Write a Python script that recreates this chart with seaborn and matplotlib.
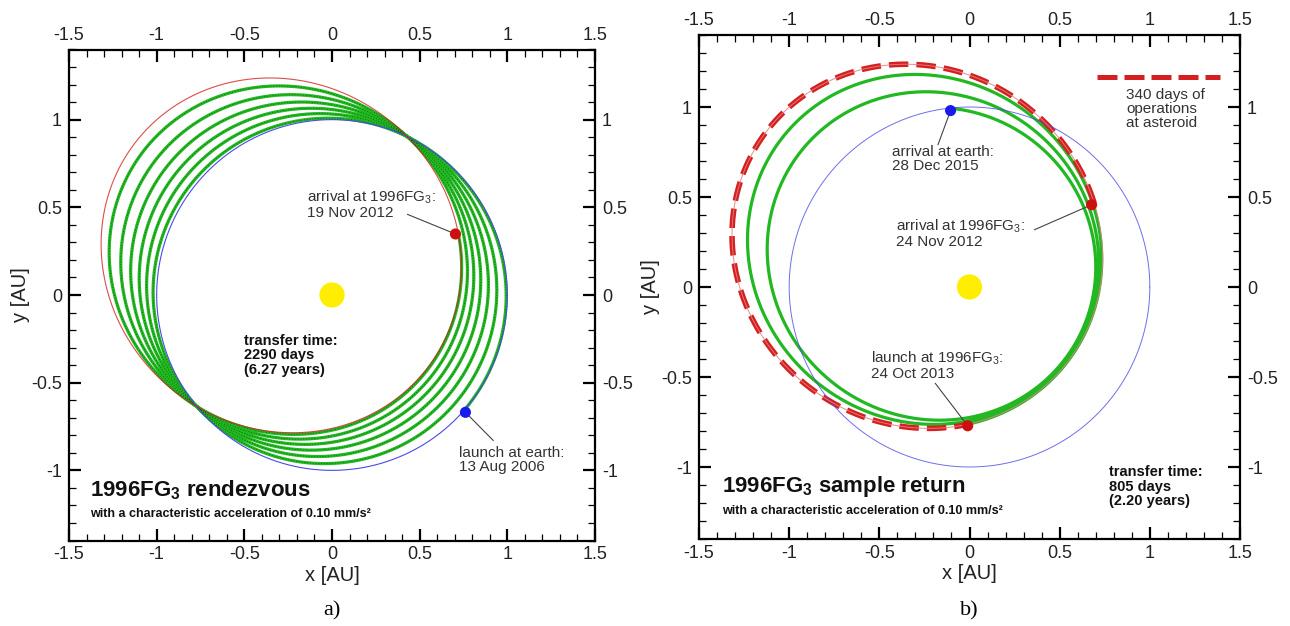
import numpy as np
import matplotlib
matplotlib.use("Agg")
import matplotlib.pyplot as plt
from matplotlib.ticker import MultipleLocator, FuncFormatter
import seaborn as sns

sns.set_theme(style="white")
plt.rcParams["font.family"] = ["Liberation Sans", "DejaVu Sans"]
plt.rcParams["axes.unicode_minus"] = False
plt.rcParams["mathtext.fontset"] = "custom"
plt.rcParams["mathtext.rm"] = "Liberation Sans"
plt.rcParams["mathtext.it"] = "Liberation Sans:italic"
plt.rcParams["mathtext.bf"] = "Liberation Sans:bold"

# orbits (AU, deg): earth circle, 1996FG3 ellipse
earth_r = 1.0
ast_p = 0.924        # semi-latus rectum
ast_e = 0.349
ast_peri = -38.0     # direction of perihelion

# a) rendezvous
rv_launch = (0.761, -0.669)     # 13 Aug 2006, earth
rv_arrival = (0.704, 0.348)     # 19 Nov 2012, 1996FG3
rv_revs = 6

# b) sample return
sr_arrival_ast = (0.677, 0.457)     # 24 Nov 2012
sr_launch_ast = (-0.01, -0.771)     # 24 Oct 2013
sr_arrival_earth = (-0.105, 0.98)   # 28 Dec 2015
sr_revs = 2
sr_end_p = 0.825
sr_end_e = 0.25

GREEN = "#22b822"
RED = "#d42020"
BLUE = "#4a4ae8"
TXT = "#333333"


def ang(pt):
    return np.degrees(np.arctan2(pt[1], pt[0]))


def conic(theta, p, e, peri):
    th = np.radians(theta)
    r = p / (1 + e * np.cos(th - np.radians(peri)))
    return r * np.cos(th), r * np.sin(th)


def spiral(th0, th1, p0, e0, p1, e1):
    th = np.linspace(th0, th1, 4000)
    t = (th - th0) / (th1 - th0)
    return conic(th, p0 + (p1 - p0) * t, e0 + (e1 - e0) * t, ast_peri)


def line(ax, x, y, **kw):
    sns.lineplot(x=x, y=y, sort=False, estimator=None, ax=ax, **kw)
    return ax.lines[-1]


def dot(ax, pt, color, s=64, z=6):
    sns.scatterplot(x=[pt[0]], y=[pt[1]], color=color, s=s, edgecolor="none",
                    ax=ax, zorder=z, legend=False)


def style_axes(ax):
    ax.set_xlim(-1.5, 1.5)
    ax.set_ylim(-1.4, 1.4)
    fmt = FuncFormatter(lambda v, _: f"{round(v, 2) + 0:g}")
    ax.xaxis.set_major_locator(MultipleLocator(0.5))
    ax.xaxis.set_minor_locator(MultipleLocator(0.1))
    ax.yaxis.set_major_locator(MultipleLocator(0.5))
    ax.yaxis.set_minor_locator(MultipleLocator(0.1))
    ax.xaxis.set_major_formatter(fmt)
    ax.yaxis.set_major_formatter(fmt)
    ax.tick_params(which="both", direction="in", bottom=True, top=True,
                   left=True, right=True, labelbottom=True, labeltop=True,
                   labelleft=True, labelright=True, colors="black")
    ax.tick_params(which="major", length=8.5, width=1.6, labelsize=13,
                   labelcolor="#222222")
    ax.tick_params(axis="x", which="major", pad=4)
    ax.tick_params(axis="y", which="major", pad=5)
    ax.tick_params(which="minor", length=5, width=0.9)
    for sp in ax.spines.values():
        sp.set_color("black")
        sp.set_linewidth(1.6)
    ax.set_xlabel("x [AU]", fontsize=14.5, color="#222222", labelpad=2)
    ax.set_ylabel("y [AU]", fontsize=14.5, color="#222222", labelpad=1)
    ax.grid(False)


fig = plt.figure(figsize=(12.9, 6.26), dpi=100)
axa = fig.add_axes([69 / 1290, 85.5 / 626, 526 / 1290, 491 / 626])
axb = fig.add_axes([699 / 1290, 87 / 626, 541 / 1290, 504 / 626])

full = np.linspace(0, 360, 1441)
ex, ey = conic(full, earth_r, 0.0, 0.0)
ax_, ay_ = conic(full, ast_p, ast_e, ast_peri)

# ---------- a) rendezvous ----------
th0 = ang(rv_launch)
th1 = ang(rv_arrival) + 360 * rv_revs
sx, sy = spiral(th0, th1, earth_r, 0.0, ast_p, ast_e)
line(axa, sx, sy, color=GREEN, lw=2.3, zorder=2)
ln = line(axa, sx, sy, color="#0d5c0d", lw=0.5, zorder=3)
ln.set_dashes((1.5, 2.5))
line(axa, ex, ey, color=BLUE, lw=0.8, zorder=4)
line(axa, ax_, ay_, color=RED, lw=0.8, alpha=0.8, zorder=4)

dot(axa, (0, 0), "#ffee00", s=330, z=5)
dot(axa, rv_arrival, "#cc1010")
dot(axa, rv_launch, "#1a1aee")

axa.annotate("", xy=rv_arrival, xytext=(0.43, 0.46),
             arrowprops=dict(arrowstyle="-", color="#444444", lw=0.8,
                             shrinkA=0, shrinkB=2))
axa.text(-0.143, 0.52, "arrival at 1996FG$_{\\mathrm{3}}$:\n19 Nov 2012",
         fontsize=11, color=TXT, ha="left", va="center", linespacing=1.0)
axa.annotate("", xy=rv_launch, xytext=(0.92, -0.83),
             arrowprops=dict(arrowstyle="-", color="#444444", lw=0.8,
                             shrinkA=0, shrinkB=2))
axa.text(0.724, -0.94, "launch at earth:\n13 Aug 2006",
         fontsize=11, color=TXT, ha="left", va="center", linespacing=1.0)
axa.text(-0.504, -0.344, "transfer time:\n2290 days\n(6.27 years)",
         fontsize=10.5, fontweight="bold", color="#111111", ha="left",
         va="center", linespacing=1.05)
axa.text(-1.378, -1.112, "1996FG$_{\\mathbf{3}}$ rendezvous", fontsize=16,
         fontweight="bold", color="#111111", ha="left", va="center")
axa.text(-1.378, -1.25, "with a characteristic acceleration of 0.10 mm/s²",
         fontsize=9, fontweight="bold", color="#111111", ha="left",
         va="center")
style_axes(axa)

# ---------- b) sample return ----------
th0 = ang(sr_launch_ast)
th1 = ang(sr_arrival_earth) + 360 * sr_revs
sx, sy = spiral(th0, th1, ast_p, ast_e, sr_end_p, sr_end_e)
line(axb, sx, sy, color=GREEN, lw=2.3, zorder=2)
line(axb, ex, ey, color=BLUE, lw=0.7, alpha=0.8, zorder=4)
ops = np.linspace(ang(sr_arrival_ast), ang(sr_launch_ast) + 360, 600)
ox, oy = conic(ops, ast_p, ast_e, ast_peri)
ln = line(axb, ox, oy, color=RED, lw=4.0, zorder=3)
ln.set_dashes((3.5, 1.45))
line(axb, ax_, ay_, color="#e58080", lw=0.7, alpha=0.9, zorder=4)

dot(axb, (0, 0), "#ffee00", s=330, z=5)
dot(axb, sr_arrival_earth, "#1a1aee")
dot(axb, sr_arrival_ast, "#cc1010")
dot(axb, sr_launch_ast, "#cc1010")

for start, tgt in [((-0.175, 0.79), sr_arrival_earth),
                   ((0.36, 0.318), sr_arrival_ast),
                   ((-0.19, -0.535), sr_launch_ast)]:
    axb.annotate("", xy=tgt, xytext=start,
                 arrowprops=dict(arrowstyle="-", color="#444444", lw=0.8,
                                 shrinkA=0, shrinkB=2))
axb.text(-0.43, 0.71, "arrival at earth:\n28 Dec 2015", fontsize=11,
         color=TXT, ha="left", va="center", linespacing=1.0)
axb.text(-0.406, 0.30, "arrival at 1996FG$_{\\mathrm{3}}$:\n24 Nov 2012",
         fontsize=11, color=TXT, ha="left", va="center", linespacing=1.0)
axb.text(-0.547, -0.435, "launch at 1996FG$_{\\mathrm{3}}$:\n24 Oct 2013",
         fontsize=11, color=TXT, ha="left", va="center", linespacing=1.0)

leg_x = np.array([0.707, 1.39])
ln = line(axb, leg_x, np.full(2, 1.168), color=RED, lw=3.6, zorder=3)
ln.set_dashes((4.0, 1.4))
axb.text(0.869, 0.99, "340 days of\noperations\nat asteroid", fontsize=11,
         color=TXT, ha="left", va="center", linespacing=1.0)
axb.text(0.776, -1.109, "transfer time:\n805 days\n(2.20 years)",
         fontsize=10.5, fontweight="bold", color="#111111", ha="left",
         va="center", linespacing=1.05)
axb.text(-1.372, -1.109, "1996FG$_{\\mathbf{3}}$ sample return", fontsize=16,
         fontweight="bold", color="#111111", ha="left", va="center")
axb.text(-1.372, -1.244, "with a characteristic acceleration of 0.10 mm/s²",
         fontsize=9, fontweight="bold", color="#111111", ha="left",
         va="center")
style_axes(axb)

fig.text(332 / 1290, 1 - 611 / 626, "a)", fontsize=16, family="Liberation Serif",
         ha="center", va="center", color="black")
fig.text(969 / 1290, 1 - 611 / 626, "b)", fontsize=16, family="Liberation Serif",
         ha="center", va="center", color="black")

fig.savefig("out.png", dpi=100, facecolor="white")
